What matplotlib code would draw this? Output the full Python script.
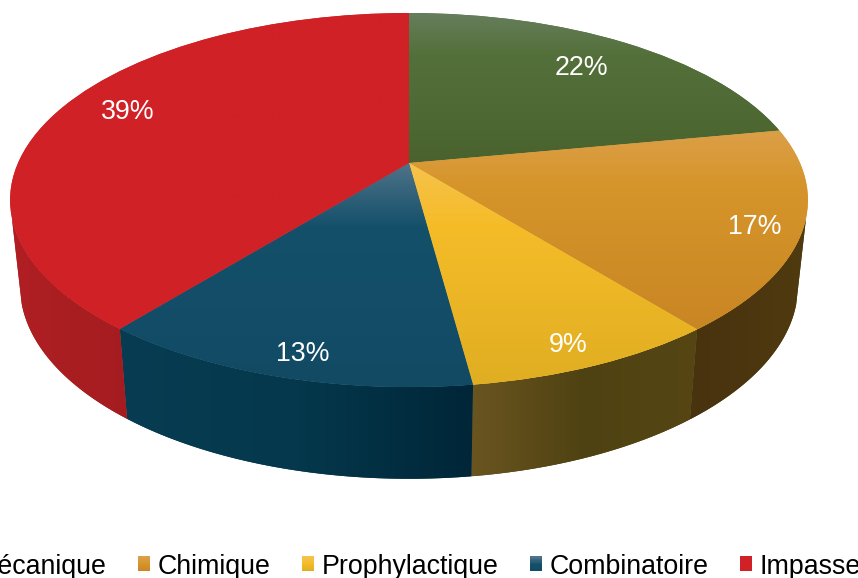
import numpy as np
import matplotlib
matplotlib.use("Agg")
import matplotlib.pyplot as plt
from matplotlib.colors import LinearSegmentedColormap
from matplotlib.legend_handler import HandlerBase
from matplotlib.patches import Patch, PathPatch, Rectangle
from matplotlib.path import Path
from matplotlib.transforms import Transform

plt.rcParams["font.family"] = ["Liberation Sans", "DejaVu Sans"]

categories = ["Mécanique", "Chimique", "Prophylactique", "Combinatoire", "Impasse"]
values = [22.0, 17.3, 8.6, 12.85, 39.25]
top_stops = [
    ["#667e5c", "#54703a", "#4a632e"],
    ["#db9f48", "#d6952a", "#c98624"],
    ["#f5c24c", "#f5bc28", "#e0ae22"],
    ["#4f7389", "#14506a", "#124a64"],
    ["#d02126", "#d02126", "#d02126"],
]
wall_stops = [
    ["#34431f", "#34431f", "#34431f"],
    ["#49330f", "#4c360f", "#503b10"],
    ["#6a5520", "#4f4212", "#554614"],
    ["#073c52", "#05384c", "#002638"],
    ["#b01f23", "#a91e21", "#a51c20"],
]
label_radii = [0.78, 0.88, 0.88, 0.87, 0.80]
label_shift_px = [(-1, 2), (2, 5), (-1, 9), (3, 10), (-1, -6)]

CX, CY, R, Q, K = 409.0, 163.0, 391.0, 179.7, 0.198
WALL_LIMIT = -0.283


class DiscProjection(Transform):
    input_dims = output_dims = 2
    is_separable = False
    has_inverse = False

    def transform_non_affine(self, pts):
        pts = np.asarray(pts, float)
        d = 1 + K * pts[:, 1]
        return np.column_stack([CX + R * pts[:, 0] / d, CY - Q * pts[:, 1] / d])


def cmap_of(stops):
    return LinearSegmentedColormap.from_list("g", stops)


fig = plt.figure(figsize=(8.58, 5.78), dpi=100)
ax = fig.add_axes([0, 0, 1, 1])
wedges, _ = ax.pie(values, startangle=90, counterclock=False, radius=1, center=(0, 0),
                   wedgeprops={"linewidth": 0})
proj = DiscProjection()
to_screen = proj + ax.transData
ends = np.cumsum(values) / np.sum(values) * 2 * np.pi
starts = np.concatenate([[0], ends[:-1]])

for i, w in enumerate(wedges):
    w.set_transform(to_screen)
    w.set_clip_on(False)
    w.set_facecolor(top_stops[i][1])
    w.set_zorder(3)
    # vertical gradient over the slice, clipped to the slice
    verts = proj.transform_non_affine(w.get_path().vertices)
    y0, y1 = verts[:, 1].min(), verts[:, 1].max()
    x0, x1 = verts[:, 0].min(), verts[:, 0].max()
    stops = [(0, top_stops[i][0]), (0.28, top_stops[i][1]), (1, top_stops[i][2])]
    grad = np.linspace(0, 1, 256)[:, None]
    im = ax.imshow(grad, extent=(x0, x1, y1, y0), cmap=LinearSegmentedColormap.from_list("t", stops),
                   aspect="auto", zorder=4, interpolation="bilinear", vmin=0, vmax=1)
    im.set_clip_path(w.get_path(), to_screen)

    # side wall of the visible rim
    t = np.linspace(starts[i], ends[i], 200)
    u, v = np.sin(t), np.cos(t)
    keep = v < WALL_LIMIT
    if keep.sum() > 1:
        rim = proj.transform_non_affine(np.column_stack([u[keep], v[keep]]))
        low = np.column_stack([CX + 0.975 * (rim[:, 0] - CX), CY + 1.03 * (rim[:, 1] - CY) + 85])
        poly = np.vstack([rim, low[::-1], rim[:1]])
        patch = PathPatch(Path(poly), facecolor=wall_stops[i][1], linewidth=0, zorder=1)
        ax.add_patch(patch)
        gx = np.linspace(0, 1, 256)[None, :]
        wim = ax.imshow(gx, extent=(poly[:, 0].min(), poly[:, 0].max(), poly[:, 1].max(), poly[:, 1].min()),
                        cmap=cmap_of(wall_stops[i]), aspect="auto", zorder=2, interpolation="bilinear")
        wim.set_clip_path(patch)

    mid = (starts[i] + ends[i]) / 2
    sx, sy = label_shift_px[i]
    ax.annotate(f"{values[i]:.0f}%", (label_radii[i] * np.sin(mid), label_radii[i] * np.cos(mid)),
                xycoords=to_screen, xytext=(sx * 0.72, -sy * 0.72), textcoords="offset points",
                ha="center", va="center", color="white", fontsize=19.3, zorder=6)


class GradientSquare(HandlerBase):
    def __init__(self, stops):
        super().__init__()
        self.stops = stops

    def create_artists(self, legend, orig, xd, yd, width, height, fontsize, trans):
        cm = cmap_of(self.stops)
        n = 12
        return [Rectangle((xd * -1, -yd + height * k / n), width, height / n + 0.2,
                          facecolor=cm(1 - k / (n - 1)), linewidth=0, transform=trans)
                for k in range(n)]


handles = [Patch(label=c) for c in categories]
ax.legend(handles=handles, loc="center", bbox_to_anchor=(408.5, 566.5),
          bbox_transform=ax.transData, ncol=5, frameon=False, fontsize=19.3,
          handlelength=0.45, handleheight=0.45, handletextpad=0.27, columnspacing=1.18,
          borderpad=0, borderaxespad=0,
          handler_map={h: GradientSquare(s) for h, s in zip(handles, top_stops)})

ax.set_aspect("auto")
ax.set_xlim(0, 858)
ax.set_ylim(578, 0)
ax.axis("off")
fig.savefig("out.png", dpi=100)
